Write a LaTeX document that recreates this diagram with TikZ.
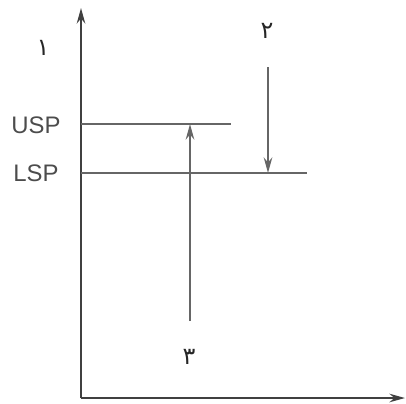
\documentclass[tikz,border=0pt]{standalone}
\usepackage{fontspec}
\setmainfont{Liberation Sans}
\newfontfamily\farsifont[Script=Arabic]{DejaVu Sans}
\TeXXeTstate=1
\usetikzlibrary{arrows.meta, positioning}

\begin{document}
\begin{tikzpicture}[
    x=0.025cm, y=-0.025cm,
    axis/.style={-{Stealth[length=11pt, width=6pt]}, line width=1.7pt, draw=black!75},
    level/.style={line width=1.8pt, draw=black!60},
    arrow/.style={-{Stealth[length=11pt, width=6pt]}, line width=1.8pt, draw=black!60},
    lbl/.style={text=black!70, font=\fontsize{17}{19}\selectfont, inner sep=0pt},
    num/.style={text=black!85, font=\farsifont\fontsize{17}{19}\selectfont, inner sep=0pt}
  ]
    \useasboundingbox (0,0) rectangle (406,403);

    % axes
    \coordinate (origin) at (81,398);
    \coordinate (ytop)   at (81,8);
    \coordinate (xend)   at (405,398);
    \draw[axis] (origin) -- (ytop);
    \draw[axis] (origin) -- (xend);

    % set points
    \coordinate (usp0) at (81,124);
    \coordinate (usp1) at (231,124);
    \coordinate (lsp0) at (81,173);
    \coordinate (lsp1) at (307,173);
    \draw[level] (usp0) -- (usp1);
    \draw[level] (lsp0) -- (lsp1);
    \node[lbl] (usp) at (36,125) {USP};
    \node[lbl] (lsp) at (36,173) {LSP};

    % rising and falling
    \coordinate (upstart) at (190,321);
    \coordinate (uptip)   at (190,124);
    \coordinate (dnstart) at (268,67);
    \coordinate (dntip)   at (268,173);
    \draw[arrow] (upstart) -- (uptip);
    \draw[arrow] (dnstart) -- (dntip);

    \node[num] (n1) at (43,48)  {\beginR ۱\endR};
    \node[num] (n2) at (267,31) {\beginR ۲\endR};
    \node[num] (n3) at (189,357) {\beginR ۳\endR};
\end{tikzpicture}
\end{document}
